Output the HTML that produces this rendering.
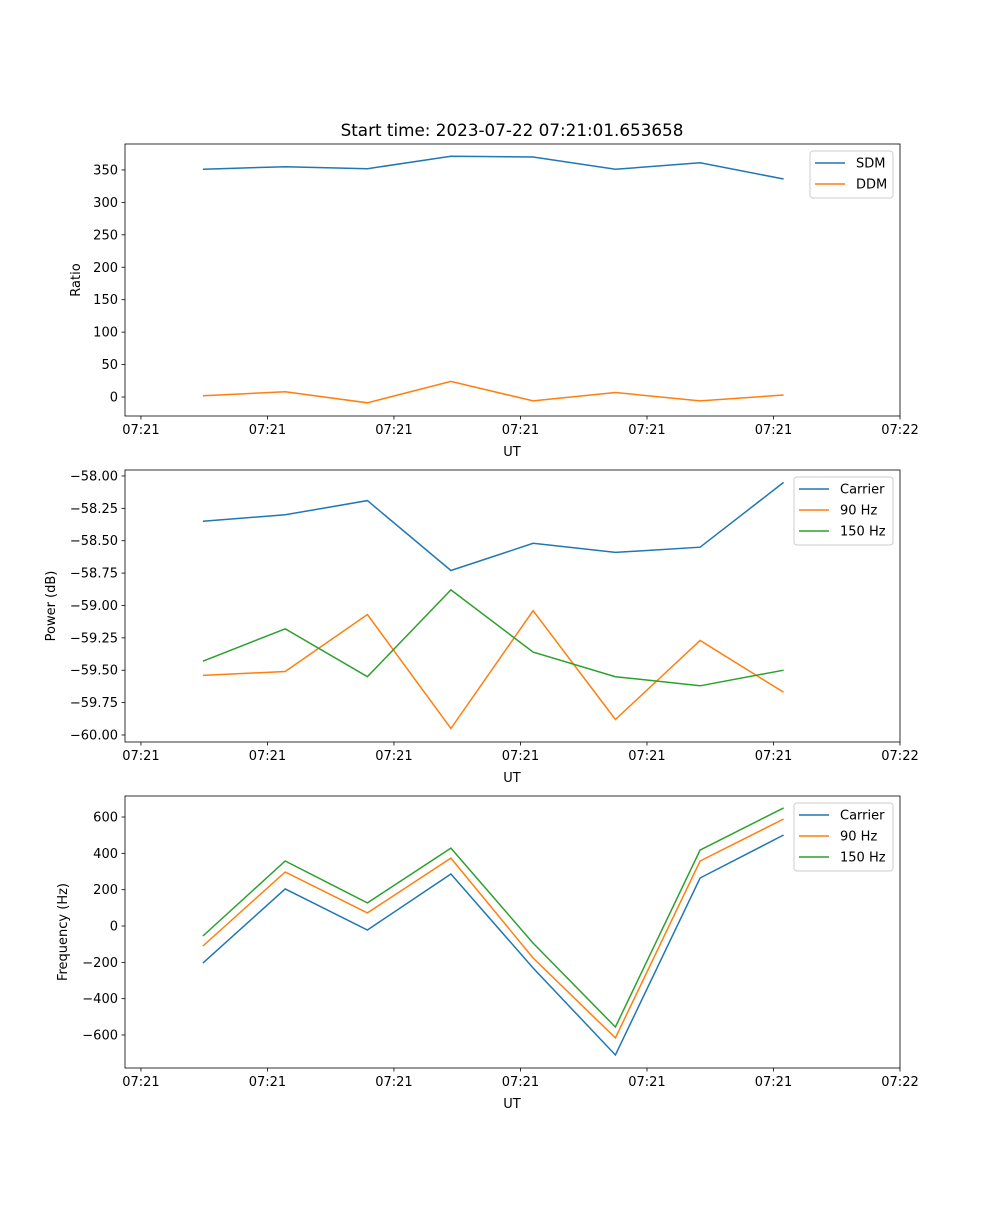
<!DOCTYPE html>
<html><head><meta charset="utf-8"><style>
body{margin:0;background:#fff}
svg text{font-family:"DejaVu Sans","Liberation Sans",sans-serif;fill:#000}
</style></head><body>
<svg id="fig" width="1000" height="1200" viewBox="0 0 1000 1200" xmlns="http://www.w3.org/2000/svg">
<rect width="1000" height="1200" fill="#fff"/>
<text x="512" y="136" font-size="16.8" text-anchor="middle">Start time: 2023-07-22 07:21:01.653658</text>
</svg>
<script>
// shared time axis (seconds after 07:21:00)
const times = [4.9, 11.4, 17.9, 24.5, 31.0, 37.5, 44.2, 50.8];
const xTickValues = [0, 10, 20, 30, 40, 50, 60];
const xTickLabels = ["07:21","07:21","07:21","07:21","07:21","07:21","07:22"];
// panel 1
const sdm = [351, 355, 352, 371, 370, 351, 361, 336];
const ddm = [2, 8, -9, 24, -6, 7, -6, 3];
const ratioTicks = [0, 50, 100, 150, 200, 250, 300, 350];
// panel 2
const powCarrier = [-58.35, -58.30, -58.19, -58.73, -58.52, -58.59, -58.55, -58.05];
const pow90 = [-59.54, -59.51, -59.07, -59.95, -59.04, -59.88, -59.27, -59.67];
const pow150 = [-59.43, -59.18, -59.55, -58.88, -59.36, -59.55, -59.62, -59.50];
const powTicks = [-58.00, -58.25, -58.50, -58.75, -59.00, -59.25, -59.50, -59.75, -60.00];
// panel 3
const freqCarrier = [-204, 204, -22, 286, -231, -710, 264, 501];
const freq90 = [-110, 297, 72, 374, -176, -616, 358, 589];
const freq150 = [-55, 358, 127, 429, -94, -556, 418, 650];
const freqTicks = [-600, -400, -200, 0, 200, 400, 600];

const NS="http://www.w3.org/2000/svg";
const svg=document.getElementById('fig');
function mk(tag,attrs,parent){const e=document.createElementNS(NS,tag);for(const k in attrs)e.setAttribute(k,attrs[k]);(parent||svg).appendChild(e);return e;}
const L=125,R=900,XMIN=-1.26,XMAX=60.0;
const sx=v=>L+(v-XMIN)/(XMAX-XMIN)*(R-L);

function panel(cfg){
  const g=mk('g',{});
  
  
  const sy=v=>cfg.bot-(v-cfg.ymin)/(cfg.ymax-cfg.ymin)*(cfg.bot-cfg.top);
  cfg.series.forEach(s=>{
    const pts=times.map((t,i)=>sx(t).toFixed(1)+','+sy(s.vals[i]).toFixed(1)).join(' ');
    const pl=mk('polyline',{points:pts,fill:'none',stroke:s.color,'stroke-width':1.5},g);
    
    
  });
  const fr=mk('rect',{x:L,y:cfg.top,width:R-L,height:cfg.bot-cfg.top,fill:'none',stroke:'#000','stroke-width':0.8},g);
  
  
  xTickValues.forEach((v,i)=>{
    const x=sx(v);
    mk('line',{x1:x,x2:x,y1:cfg.bot,y2:cfg.bot+3.5,stroke:'#000','stroke-width':0.8},g);
    const t=mk('text',{x:x,y:cfg.bot+18,'font-size':13,'text-anchor':'middle'},g);
    t.textContent=xTickLabels[i];
    
    
  });
  const xl=mk('text',{x:512,y:cfg.bot+40,'font-size':13,'text-anchor':'middle'},g);
  xl.textContent='UT';
  
  
  cfg.ticks.forEach(v=>{
    const y=sy(v);
    mk('line',{x1:L-3.5,x2:L,y1:y,y2:y,stroke:'#000','stroke-width':0.8},g);
    const t=mk('text',{x:L-7,y:y+4.5,'font-size':13,'text-anchor':'end'},g);
    t.textContent=cfg.fmt(v);
    
    
  });
  const cy=(cfg.top+cfg.bot)/2;
  const yl=mk('text',{x:cfg.ylx,y:cy,'font-size':13,'text-anchor':'middle',transform:`rotate(-90 ${cfg.ylx} ${cy})`},g);
  yl.textContent=cfg.ylabel;
  
  
  const lg=mk('g',{},g);
  
  
  const lh=cfg.series.length*21+5;
  mk('rect',{x:cfg.lx,y:cfg.top+7,width:cfg.lw,height:lh,rx:3,fill:'#fff','fill-opacity':0.8,stroke:'#ccc','stroke-width':1},lg);
  cfg.series.forEach((s,i)=>{
    const y=cfg.top+19+i*21;
    mk('line',{x1:cfg.lx+5,x2:cfg.lx+35,y1:y,y2:y,stroke:s.color,'stroke-width':1.5},lg);
    const t=mk('text',{x:cfg.lx+46,y:y+4.5,'font-size':13},lg);
    t.textContent=s.label;
    
    
  });
}
const C1='#1f77b4',C2='#ff7f0e',C3='#2ca02c';
panel({name:'ratio-panel',top:144,bot:416,ymin:-29.3,ymax:390,ticks:ratioTicks,fmt:v=>String(v),ylabel:'Ratio',ylx:80,lx:810,lw:83,
  series:[{id:'sdm-line',label:'SDM',color:C1,vals:sdm},{id:'ddm-line',label:'DDM',color:C2,vals:ddm}]});
panel({name:'power-panel',top:470,bot:742,ymin:-60.054,ymax:-57.954,ticks:powTicks,fmt:v=>'\u2212'+Math.abs(v).toFixed(2),ylabel:'Power (dB)',ylx:55,lx:794,lw:99,
  series:[{id:'power-carrier-line',label:'Carrier',color:C1,vals:powCarrier},{id:'power-90hz-line',label:'90 Hz',color:C2,vals:pow90},{id:'power-150hz-line',label:'150 Hz',color:C3,vals:pow150}]});
panel({name:'frequency-panel',top:796,bot:1068,ymin:-781.6,ymax:715.6,ticks:freqTicks,fmt:v=>v<0?'\u2212'+Math.abs(v):String(v),ylabel:'Frequency (Hz)',ylx:67,lx:794,lw:99,
  series:[{id:'freq-carrier-line',label:'Carrier',color:C1,vals:freqCarrier},{id:'freq-90hz-line',label:'90 Hz',color:C2,vals:freq90},{id:'freq-150hz-line',label:'150 Hz',color:C3,vals:freq150}]});
</script>
</body></html>
